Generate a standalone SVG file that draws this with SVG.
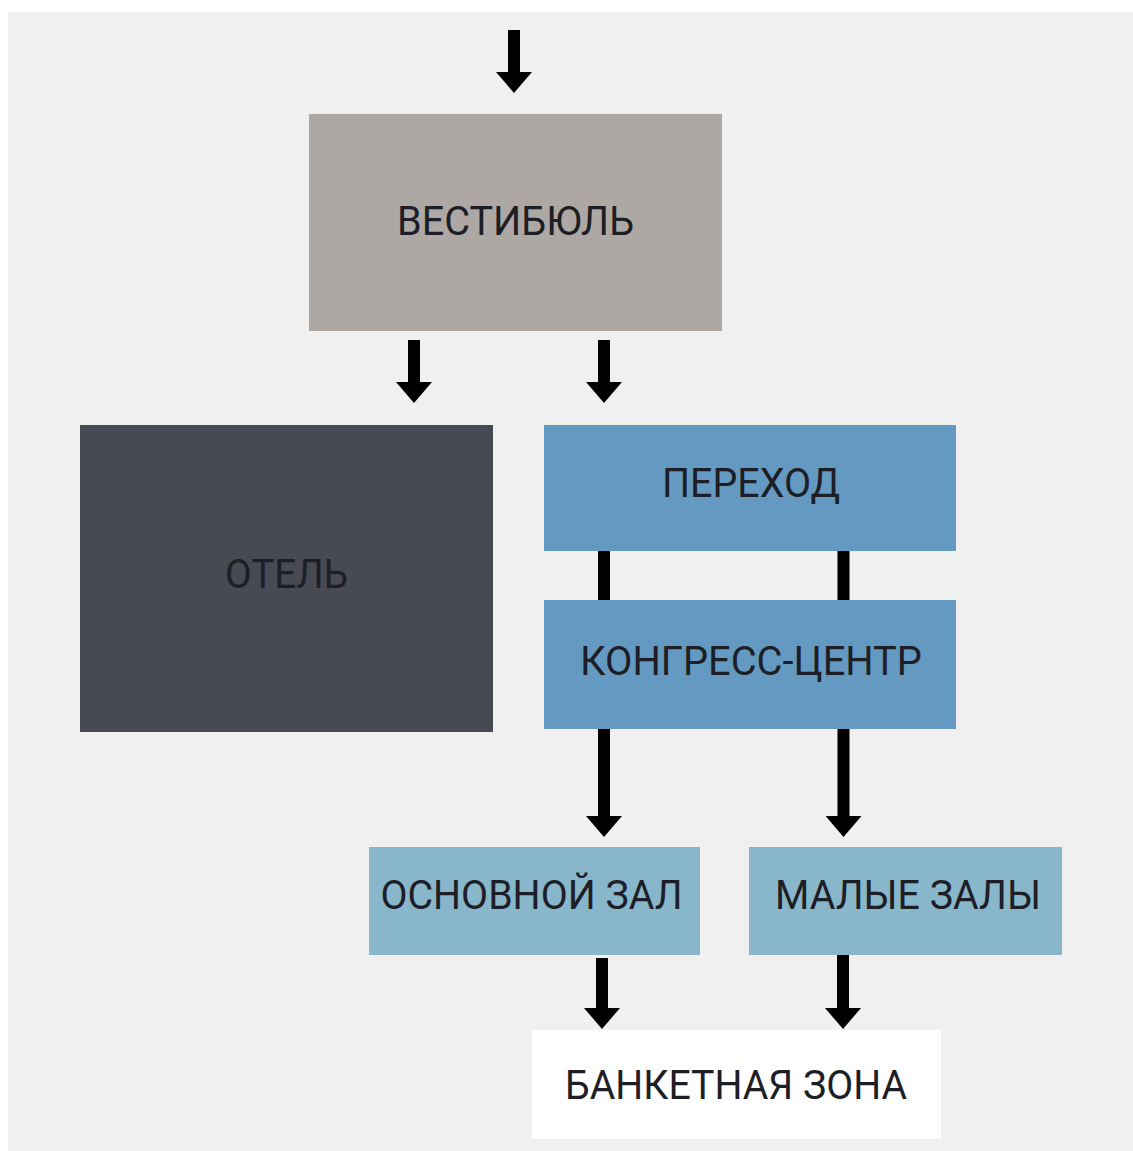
<svg xmlns="http://www.w3.org/2000/svg" width="1133" height="1151" viewBox="0 0 1133 1151">
  <defs>
    <marker id="head" viewBox="0 0 21 36" refX="0" refY="18" markerWidth="21" markerHeight="36" markerUnits="userSpaceOnUse" orient="auto">
      <path d="M0,0 L21,18 L0,36 Z" fill="#000"/>
    </marker>
    <style>
      .lbl { font-family: Roboto, "Liberation Sans", sans-serif; font-size: 41px; font-weight: 400; fill: #1e1e26; text-anchor: middle; }
      .arrow { stroke: #000; stroke-width: 12; fill: none; marker-end: url(#head); }
      .bar { stroke: #000; stroke-width: 12; fill: none; }
    </style>
  </defs>
  <rect x="0" y="0" width="1133" height="1151" fill="#ffffff"/>
  <rect x="8" y="12" width="1125" height="1139" fill="#f0f0f0"/>

  <g id="connectors">
    <line class="arrow" x1="514" y1="30" x2="514" y2="72"/>
    <line class="arrow" x1="414" y1="340" x2="414" y2="382"/>
    <line class="arrow" x1="604" y1="340" x2="604" y2="382"/>
    <line class="bar" x1="604" y1="551" x2="604" y2="600"/>
    <line class="bar" x1="843.5" y1="551" x2="843.5" y2="600"/>
    <line class="arrow" x1="604" y1="729" x2="604" y2="816"/>
    <line class="arrow" x1="843.5" y1="729" x2="843.5" y2="816"/>
    <line class="arrow" x1="602" y1="958" x2="602" y2="1008"/>
    <line class="arrow" x1="843" y1="955" x2="843" y2="1008"/>
  </g>

  <g id="vestibule">
    <rect x="309" y="114" width="413" height="217" fill="#ada8a4"/>
    <text class="lbl" x="515.5" y="235" textLength="237" lengthAdjust="spacingAndGlyphs">ВЕСТИБЮЛЬ</text>
  </g>
  <g id="hotel">
    <rect x="80" y="425" width="413" height="307" fill="#474a53"/>
    <text class="lbl" x="286.5" y="588" textLength="123" lengthAdjust="spacingAndGlyphs">ОТЕЛЬ</text>
  </g>
  <g id="passage">
    <rect x="544" y="425" width="412" height="126" fill="#6499c2"/>
    <text class="lbl" x="751" y="497" textLength="178" lengthAdjust="spacingAndGlyphs">ПЕРЕХОД</text>
  </g>
  <g id="congress">
    <rect x="544" y="600" width="412" height="129" fill="#6499c2"/>
    <text class="lbl" x="751" y="675" textLength="342" lengthAdjust="spacingAndGlyphs">КОНГРЕСС-ЦЕНТР</text>
  </g>
  <g id="main-hall">
    <rect x="369" y="847" width="331" height="108" fill="#88b6cb"/>
    <text class="lbl" x="531.5" y="909" textLength="302" lengthAdjust="spacingAndGlyphs">ОСНОВНОЙ ЗАЛ</text>
  </g>
  <g id="small-halls">
    <rect x="749" y="847" width="313" height="108" fill="#88b6cb"/>
    <text class="lbl" x="908" y="909" textLength="266" lengthAdjust="spacingAndGlyphs">МАЛЫЕ ЗАЛЫ</text>
  </g>
  <g id="banquet">
    <rect x="532" y="1030" width="409" height="109" fill="#ffffff"/>
    <text class="lbl" x="736" y="1099" textLength="342" lengthAdjust="spacingAndGlyphs">БАНКЕТНАЯ ЗОНА</text>
  </g>
</svg>
